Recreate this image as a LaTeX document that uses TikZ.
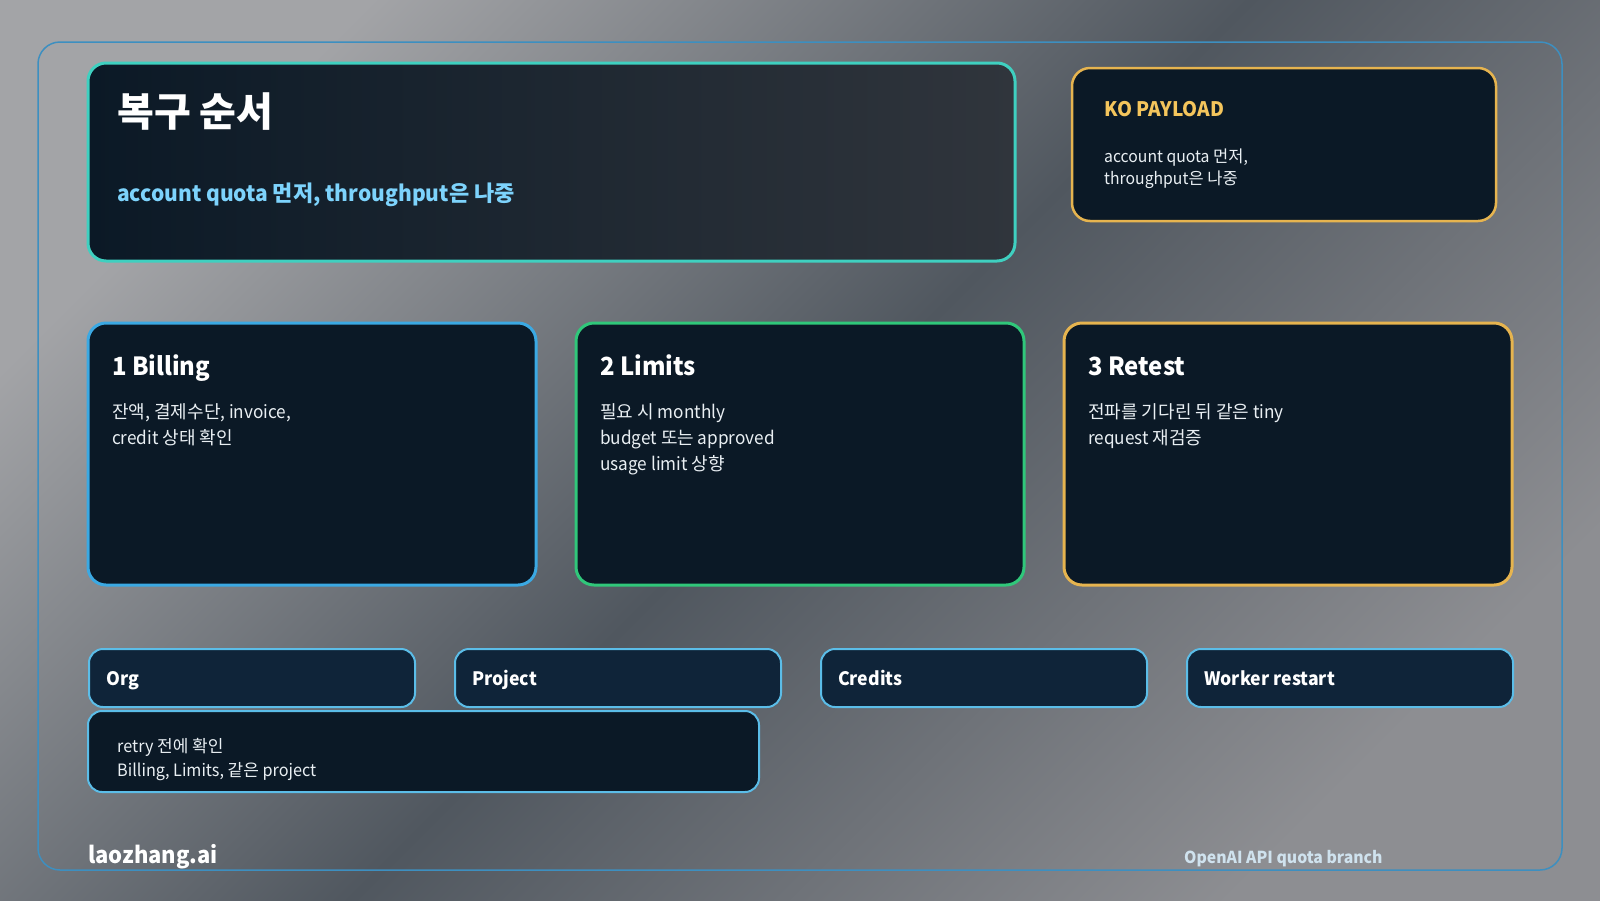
\documentclass[tikz,border=0pt]{standalone}
\usepackage{fontspec}
\setmainfont{Noto Sans CJK KR}[FakeStretch=0.955]
\newfontfamily\hgfont{Noto Sans CJK KR}
\newcommand\hg[1]{{\hgfont #1}}
\definecolor{bgtl}{HTML}{A3A4A7}
\definecolor{bgmid}{HTML}{50575F}
\definecolor{bgbr}{HTML}{8D8E92}
\definecolor{frameline}{HTML}{3D8FC0}
\definecolor{panelfill}{HTML}{0B1926}
\definecolor{teal}{HTML}{3FD0C0}
\definecolor{amber}{HTML}{E6B44F}
\definecolor{amberText}{HTML}{F4C55C}
\definecolor{blueline}{HTML}{3BA9E3}
\definecolor{greenline}{HTML}{30C77A}
\definecolor{chipline}{HTML}{5BBDE8}
\definecolor{chipfill}{HTML}{0F2439}
\definecolor{subblue}{HTML}{7DD3FC}
\definecolor{foot}{HTML}{CFE2EE}
\definecolor{bodytxt}{HTML}{E9EFF3}
\definecolor{titleR}{HTML}{30353C}
\begin{document}
\begin{tikzpicture}[x=1pt,y=-1pt,
  panel/.style={rounded corners=18pt, line width=3pt, fill=panelfill},
  chipbox/.style={draw=chipline, fill=chipfill, rounded corners=14pt, line width=2pt, anchor=north west, inner sep=0pt, minimum width=326pt, minimum height=58pt},
  txt/.style={anchor=base west, inner sep=0pt, text=bodytxt},
  head/.style={txt, text=white, font=\fontsize{25}{30}\selectfont\bfseries},
  body/.style={txt, font=\fontsize{18}{24}\selectfont},
  chiptxt/.style={txt, text=white, font=\fontsize{18.5}{22}\selectfont\bfseries},
]
\useasboundingbox (0,0) rectangle (1600,900);
\shade[shading=axis, top color=bgtl, bottom color=bgbr, middle color=bgmid, shading angle=45] (0,0) rectangle (1600,900);
% outer frame
\draw[frameline, line width=1.5pt, rounded corners=22pt] (38,42) rectangle (1562,870);
% title panel
\shade[rounded corners=18pt, left color=panelfill, right color=titleR] (88,63) rectangle (1015,261);
\draw[teal, line width=3pt, rounded corners=18pt] (88,63) rectangle (1015,261);
\node[txt, text=white, font=\fontsize{40}{46}\selectfont\bfseries] (title) at (117,126) {\hg{복구 순서}};
\node[txt, text=subblue, font=\fontsize{22}{26}\selectfont\bfseries] (subtitle) at (117,201) {account quota \hg{먼저}, throughput\hg{은 나중}};
% KO payload
\draw[panel, draw=amber, line width=2.5pt] (1072,68) rectangle (1496,221);
\node[txt, text=amberText, font=\fontsize{20}{24}\selectfont\bfseries] (kohead) at (1104,116) {KO PAYLOAD};
\node[txt, font=\fontsize{16.5}{22}\selectfont] (ko1) at (1104,162) {account quota \hg{먼저},};
\node[txt, font=\fontsize{16.5}{22}\selectfont] (ko2) at (1104,184) {throughput\hg{은 나중}};
% step panels
\draw[panel, draw=blueline] (88,323) rectangle (536,585);
\node[head] (h1) at (112,375) {1 Billing};
\node[body] (b11) at (112,418) {\hg{잔액, 결제수단}, invoice,};
\node[body] (b12) at (112,444) {credit \hg{상태 확인}};
\draw[panel, draw=greenline] (576,323) rectangle (1024,585);
\node[head] (h2) at (600,375) {2 Limits};
\node[body] (b21) at (600,418) {\hg{필요 시} monthly};
\node[body] (b22) at (600,444) {budget \hg{또는} approved};
\node[body] (b23) at (600,470) {usage limit \hg{상향}};
\draw[panel, draw=amber] (1064,323) rectangle (1512,585);
\node[head] (h3) at (1088,375) {3 Retest};
\node[body] (b31) at (1088,418) {\hg{전파를 기다린 뒤 같은} tiny};
\node[body] (b32) at (1088,444) {request \hg{재검증}};
% chips
\node[chipbox] (org) at (88,648) {};
\node[chiptxt] (orgt) at (106,685) {Org};
\node[chipbox] (proj) at (454,648) {};
\node[chiptxt] (projt) at (472,685) {Project};
\node[chipbox] (cred) at (820,648) {};
\node[chiptxt] (credt) at (838,685) {Credits};
\node[chipbox] (work) at (1186,648) {};
\node[chiptxt] (workt) at (1204,685) {Worker restart};
% note
\draw[fill=panelfill, draw=chipline, line width=2pt, rounded corners=14pt] (88,711) rectangle (759,792);
\node[txt, font=\fontsize{17}{22}\selectfont] (n1) at (117,752) {retry \hg{전에 확인}};
\node[txt, font=\fontsize{17}{22}\selectfont] (n2) at (117,776) {Billing, Limits, \hg{같은} project};
% footer
\node[txt, text=white, font=\fontsize{23}{28}\selectfont\bfseries] (brand) at (88,863) {laozhang.ai};
\node[txt, text=foot, font=\fontsize{16.5}{20}\selectfont\bfseries] (tag) at (1184,863) {OpenAI API quota branch};
\end{tikzpicture}
\end{document}
